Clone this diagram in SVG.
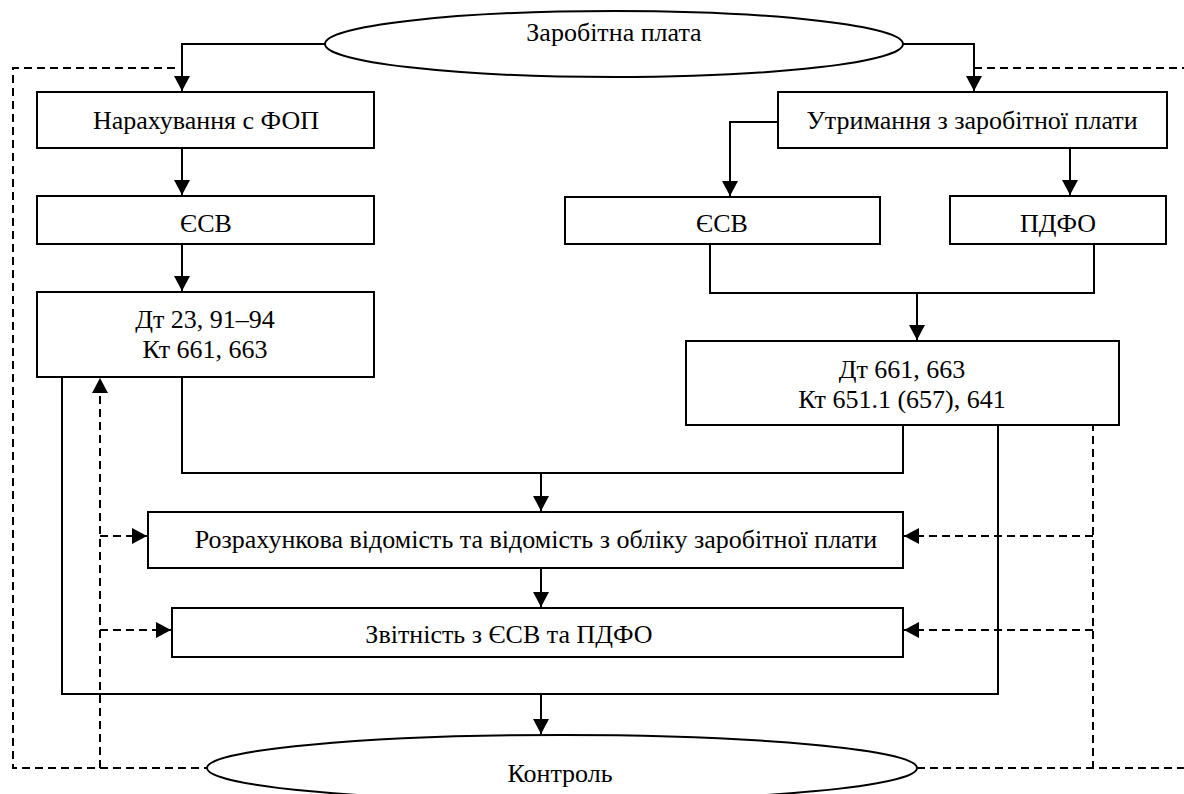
<svg xmlns="http://www.w3.org/2000/svg" width="1184" height="794" viewBox="0 0 1184 794">
<defs>
<marker id="ah" markerUnits="userSpaceOnUse" markerWidth="16" markerHeight="16" viewBox="0 0 16 16" refX="15" refY="8" orient="auto">
<path d="M0,0 L15,8 L0,16 Z" fill="#000"/>
</marker>
</defs>
<style>
.box{fill:#fff;stroke:#000;stroke-width:2}
.ell{fill:#fff;stroke:#000;stroke-width:2}
.ln{fill:none;stroke:#000;stroke-width:2}
.dl{fill:none;stroke:#000;stroke-width:2;stroke-dasharray:8 5}
.t{font-size:26px;fill:#000;text-anchor:middle}
</style>
<rect width="1184" height="794" fill="#fff"/>
<g id="connectors">
<path class="ln" d="M325,44 H182 V91" marker-end="url(#ah)"/>
<path class="ln" d="M902,44 H974 V91" marker-end="url(#ah)"/>
<path class="ln" d="M182,148 V195" marker-end="url(#ah)"/>
<path class="ln" d="M182,244 V291" marker-end="url(#ah)"/>
<path class="ln" d="M778,122 H730 V196" marker-end="url(#ah)"/>
<path class="ln" d="M1070,148 V195" marker-end="url(#ah)"/>
<path class="ln" d="M710,244 V293 H1094 V244"/>
<path class="ln" d="M917,293 V340" marker-end="url(#ah)"/>
<path class="ln" d="M182,377 V473 H903 V425"/>
<path class="ln" d="M541,473 V511" marker-end="url(#ah)"/>
<path class="ln" d="M541,568 V607" marker-end="url(#ah)"/>
<path class="ln" d="M62,377 V694 H998 V425"/>
<path class="ln" d="M541,694 V734" marker-end="url(#ah)"/>
<path class="dl" d="M175,68 H13 V768 H207"/>
<path class="dl" d="M100,768 V378" marker-end="url(#ah)"/>
<path class="dl" d="M100,536 H147" marker-end="url(#ah)"/>
<path class="dl" d="M100,630 H171" marker-end="url(#ah)"/>
<path class="dl" d="M974,68 H1184"/>
<path class="dl" d="M917,768 H1184"/>
<path class="dl" d="M1093,410 V768"/>
<path class="dl" d="M1093,536 H904" marker-end="url(#ah)"/>
<path class="dl" d="M1093,630 H904" marker-end="url(#ah)"/>
</g>
<g font-family="Liberation Serif, Times New Roman, serif">
<g id="n-zp">
<ellipse class="ell" cx="614" cy="44" rx="289" ry="33"/>
<text class="t" x="614" y="41">Заробітна плата</text>
</g>
<g id="n-nar">
<rect class="box" x="37" y="92" width="337" height="56"/>
<text class="t" x="206" y="129">Нарахування с ФОП</text>
</g>
<g id="n-utr">
<rect class="box" x="778" y="92" width="389" height="56"/>
<text class="t" x="972" y="129">Утримання з заробітної плати</text>
</g>
<g id="n-esv1">
<rect class="box" x="37" y="196" width="337" height="48"/>
<text class="t" x="206" y="232">ЄСВ</text>
</g>
<g id="n-esv2">
<rect class="box" x="565" y="197" width="315" height="47"/>
<text class="t" x="722" y="232">ЄСВ</text>
</g>
<g id="n-pdfo">
<rect class="box" x="950" y="196" width="216" height="48"/>
<text class="t" x="1058" y="232">ПДФО</text>
</g>
<g id="n-dt23">
<rect class="box" x="37" y="292" width="337" height="85"/>
<text class="t" x="205" y="328">Дт 23, 91–94</text>
<text class="t" x="205" y="358">Кт 661, 663</text>
</g>
<g id="n-dt661">
<rect class="box" x="686" y="341" width="433" height="84"/>
<text class="t" x="902" y="378">Дт 661, 663</text>
<text class="t" x="902" y="408">Кт 651.1 (657), 641</text>
</g>
<g id="n-rozr">
<rect class="box" x="148" y="512" width="755" height="56"/>
<text class="t" x="536" y="548">Розрахункова відомість та відомість з обліку заробітної плати</text>
</g>
<g id="n-zvit">
<rect class="box" x="172" y="608" width="731" height="49"/>
<text class="t" x="509" y="643">Звітність з ЄСВ та ПДФО</text>
</g>
<g id="n-kontr">
<ellipse class="ell" cx="562" cy="768" rx="355" ry="33"/>
<text class="t" x="560" y="782">Контроль</text>
</g>
</g>
</svg>
